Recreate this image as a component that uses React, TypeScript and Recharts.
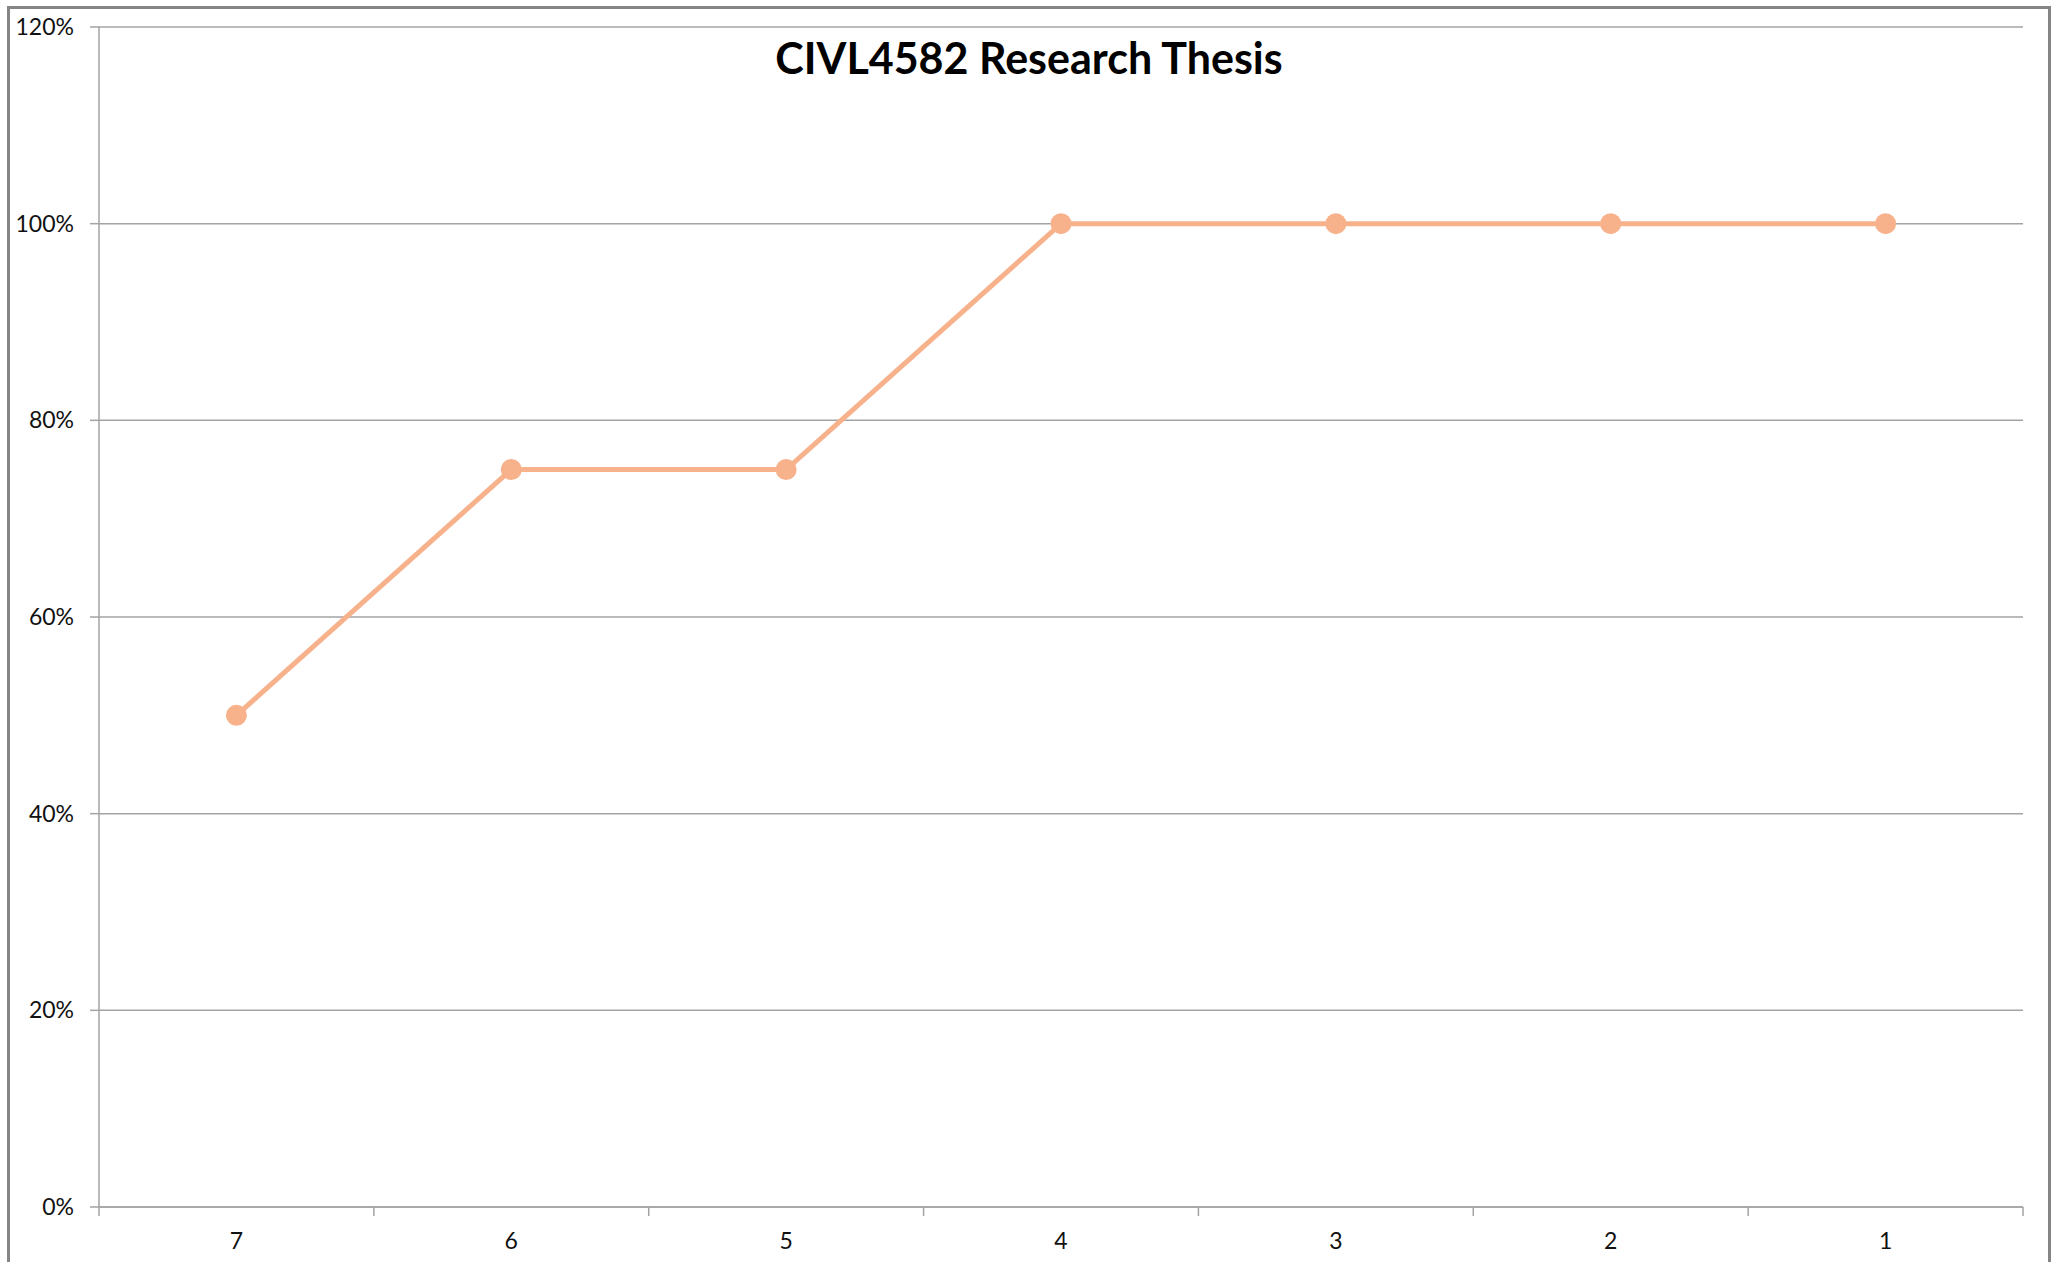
import { CartesianGrid, Line, LineChart, XAxis, YAxis } from "recharts";

const weeks = ["7", "6", "5", "4", "3", "2", "1"];
const progress = [0.5, 0.75, 0.75, 1, 1, 1, 1];
const yTicks = [0, 0.2, 0.4, 0.6, 0.8, 1, 1.2];

const data = weeks.map((week, i) => ({ week, progress: progress[i] }));

const FONT = "Lato, 'Open Sans', sans-serif";
const GRID = "#a3a3a3";
const ORANGE = "#f7b28c";

const formatPercent = (v: number) => `${Math.round(v * 100)}%`;

// Excel style: tick marks on the category edges, label in the middle
const WeekTick = (props: any) => {
  const { x, y, payload, index } = props;
  const half = payload.offset || 0;
  const last = index === weeks.length - 1;
  return (
    <g>
      <line x1={x - half} y1={y} x2={x - half} y2={y + 9} stroke={GRID} strokeWidth={1.5} />
      {last && (
        <line x1={x + half} y1={y} x2={x + half} y2={y + 9} stroke={GRID} strokeWidth={1.5} />
      )}
      <text x={x} y={y + 42} textAnchor="middle" fontFamily={FONT} fontSize={23} fill="#111">
        {payload.value}
      </text>
    </g>
  );
};

export default function App() {
  return (
    <div
      style={{
        position: "absolute",
        left: 0,
        top: 0,
        width: 2062,
        height: 1262,
        background: "#fff",
        overflow: "hidden",
      }}
    >
      <div
        style={{
          position: "absolute",
          left: 7,
          top: 6,
          width: 2038,
          height: 1320,
          border: "3px solid #858585",
        }}
      />
      <div style={{ position: "absolute", left: 0, top: 0 }}>
        <LineChart
          width={2062}
          height={1262}
          data={data}
          margin={{ top: 27, right: 39, left: 19, bottom: 25 }}
        >
          <CartesianGrid vertical={false} stroke={GRID} strokeWidth={1.5} />
          <XAxis
            dataKey="week"
            scale="band"
            height={30}
            tickSize={0}
            tickMargin={0}
            tickLine={false}
            axisLine={{ stroke: GRID, strokeWidth: 1.5 }}
            tick={<WeekTick />}
            interval={0}
          />
          <YAxis
            width={80}
            domain={[0, 1.2]}
            ticks={yTicks}
            tickFormatter={formatPercent}
            tickSize={9}
            tickMargin={16}
            tickLine={{ stroke: GRID, strokeWidth: 1.5 }}
            axisLine={{ stroke: GRID, strokeWidth: 1.5 }}
            tick={{ fontFamily: FONT, fontSize: 23, fill: "#111" }}
          />
          <Line
            dataKey="progress"
            stroke={ORANGE}
            strokeWidth={5}
            dot={{ r: 10.5, fill: ORANGE, stroke: "none" }}
            isAnimationActive={false}
          />
        </LineChart>
      </div>
      <svg
        width={2062}
        height={120}
        style={{ position: "absolute", left: 0, top: 0, pointerEvents: "none" }}
      >
        <text
          x={1029}
          y={74}
          textAnchor="middle"
          fontFamily={FONT}
          fontWeight="bold"
          fontSize={43}
          fill="#000"
        >
          CIVL4582 Research Thesis
        </text>
      </svg>
    </div>
  );
}
